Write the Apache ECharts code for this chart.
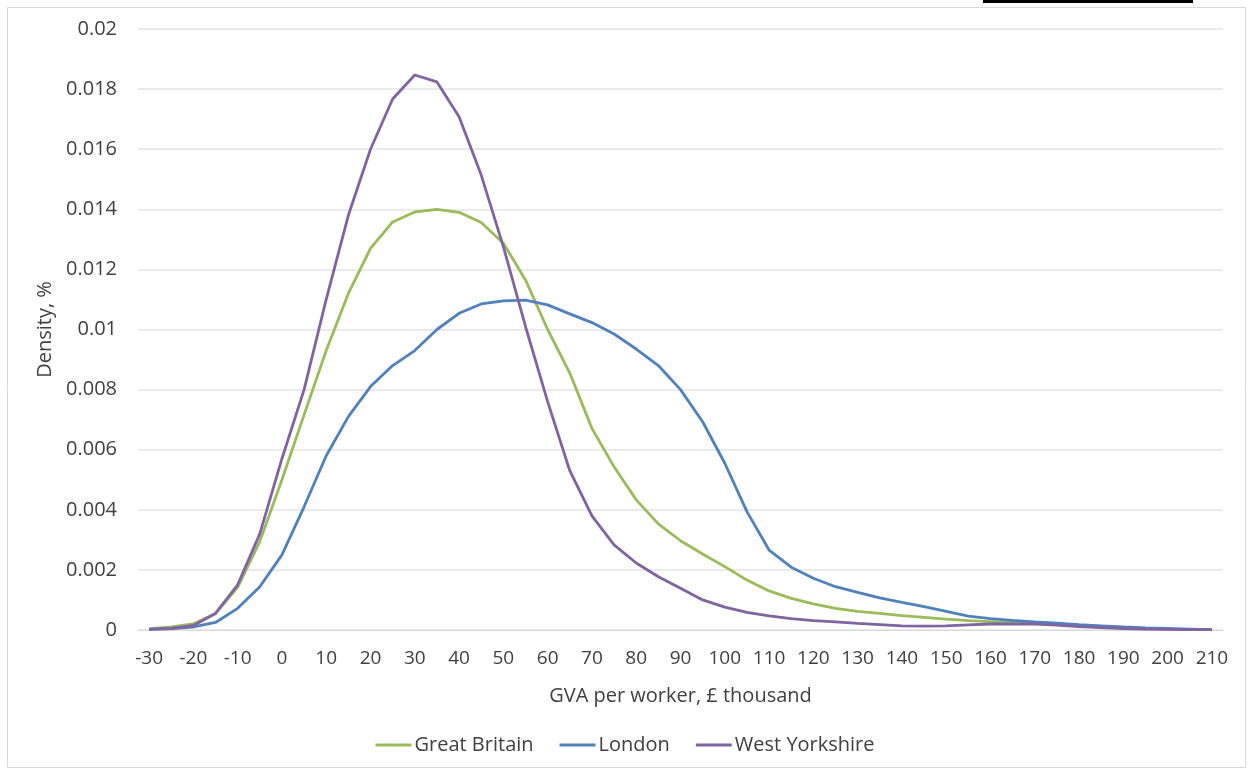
<!DOCTYPE html>
<html>
<head>
<meta charset="utf-8">
<script src="https://cdn.jsdelivr.net/npm/echarts@6/dist/echarts.min.js"></script>
<style>
  html, body { margin: 0; padding: 0; background: #ffffff; }
  #chart { width: 1250px; height: 773px; }
</style>
</head>
<body>
<div id="chart"></div>
<script>
// GVA per worker bands (£ thousand), one point every 5
const gvaBands = [-30, -25, -20, -15, -10, -5, 0, 5, 10, 15, 20, 25, 30, 35, 40, 45, 50, 55, 60, 65,
  70, 75, 80, 85, 90, 95, 100, 105, 110, 115, 120, 125, 130, 135, 140, 145, 150, 155, 160, 165,
  170, 175, 180, 185, 190, 195, 200, 205, 210];

// Density of workers in each band
const greatBritain = [0.00004, 0.0001, 0.0002, 0.00055, 0.00142, 0.00294, 0.0050, 0.00716, 0.0093, 0.0112,
  0.0127, 0.01358, 0.01391, 0.0140, 0.0139, 0.01356, 0.01287, 0.01165, 0.0100, 0.00855,
  0.00671, 0.00543, 0.00433, 0.00353, 0.00297, 0.00253, 0.00211, 0.00166, 0.0013, 0.00105,
  0.00087, 0.00072, 0.00062, 0.00055, 0.00048, 0.00042, 0.00036, 0.00031, 0.00028, 0.00025,
  0.00022, 0.00018, 0.00013, 0.0001, 0.00007, 0.00005, 0.00003, 0.00002, 0.00001];

const london = [0.00002, 0.00005, 0.0001, 0.00025, 0.00072, 0.00144, 0.0025, 0.0041, 0.0058, 0.0071,
  0.0081, 0.0088, 0.0093, 0.0100, 0.01054, 0.01085, 0.01095, 0.01098, 0.01082, 0.01052,
  0.01023, 0.00985, 0.00935, 0.0088, 0.0080, 0.00693, 0.00555, 0.00394, 0.00266, 0.00209,
  0.00172, 0.00144, 0.00125, 0.00107, 0.00092, 0.00078, 0.00062, 0.00046, 0.00038, 0.00032,
  0.00027, 0.00023, 0.00018, 0.00014, 0.0001, 0.00007, 0.00005, 0.00003, 0.00001];

const westYorkshire = [0.00003, 0.00005, 0.00015, 0.00055, 0.0015, 0.0032, 0.0057, 0.0080, 0.0110, 0.0138,
  0.0160, 0.01767, 0.01847, 0.01824, 0.01708, 0.01514, 0.01276, 0.0101, 0.0076, 0.0053,
  0.0038, 0.00283, 0.00223, 0.00177, 0.00139, 0.0010, 0.00076, 0.00059, 0.00047, 0.00038,
  0.00031, 0.00027, 0.00022, 0.00018, 0.00014, 0.00013, 0.00014, 0.00017, 0.0002, 0.0002,
  0.0002, 0.00016, 0.00011, 0.00008, 0.00005, 0.00003, 0.00002, 0.00001, 0.00001];

const seriesNames = ['Great Britain', 'London', 'West Yorkshire'];
const seriesColors = ['#9BBB59', '#4F81BD', '#8064A2'];
const seriesValues = [greatBritain, london, westYorkshire];

const textFont = 'Open Sans';
const textColor = '#404040';

const chart = echarts.init(document.getElementById('chart'), null, { renderer: 'canvas' });

chart.setOption({
  backgroundColor: '#ffffff',
  animation: false,
  grid: { left: 138, right: 27, top: 29, bottom: 143, containLabel: false },
  graphic: [
    {
      type: 'rect',
      shape: { x: 7.5, y: 7.5, width: 1238, height: 760 },
      style: { fill: 'none', stroke: '#d9d9d9', lineWidth: 1 },
      silent: true
    },
    {
      type: 'rect',
      shape: { x: 983, y: 0, width: 210, height: 3 },
      style: { fill: '#000000' },
      silent: true
    }
  ],
  legend: {
    data: seriesNames,
    top: 730,
    left: 'center',
    icon: 'rect',
    itemWidth: 36,
    itemHeight: 3,
    itemGap: 26,
    textStyle: { fontFamily: textFont, fontSize: 20, color: textColor, padding: [0, 0, 0, -2] }
  },
  xAxis: {
    type: 'category',
    data: gvaBands,
    boundaryGap: true,
    name: 'GVA per worker, £ thousand',
    nameLocation: 'middle',
    nameGap: 56,
    nameTextStyle: { fontFamily: textFont, fontSize: 20, color: textColor },
    axisLine: { show: true, lineStyle: { color: '#d9d9d9', width: 1 } },
    axisTick: { show: false },
    axisLabel: {
      interval: 1,
      fontFamily: textFont,
      fontSize: 19,
      color: textColor,
      margin: 19
    },
    splitLine: { show: false }
  },
  yAxis: {
    type: 'value',
    min: 0,
    max: 0.02,
    interval: 0.002,
    name: 'Density, %',
    nameLocation: 'middle',
    nameGap: 82,
    nameRotate: 90,
    nameTextStyle: { fontFamily: textFont, fontSize: 20, color: textColor },
    axisLine: { show: false },
    axisTick: { show: false },
    axisLabel: {
      fontFamily: textFont,
      fontSize: 20,
      color: textColor,
      margin: 21,
      formatter: function (v) { return String(Math.round(v * 1000) / 1000); }
    },
    splitLine: { lineStyle: { color: '#e3e3e3', width: 1.5 } }
  },
  series: seriesNames.map(function (name, i) {
    return {
      name: name,
      type: 'line',
      data: seriesValues[i],
      symbol: 'none',
      smooth: false,
      lineStyle: { color: seriesColors[i], width: 2.8 },
      itemStyle: { color: seriesColors[i] },
      z: 2 + i
    };
  })
});
</script>
</body>
</html>
